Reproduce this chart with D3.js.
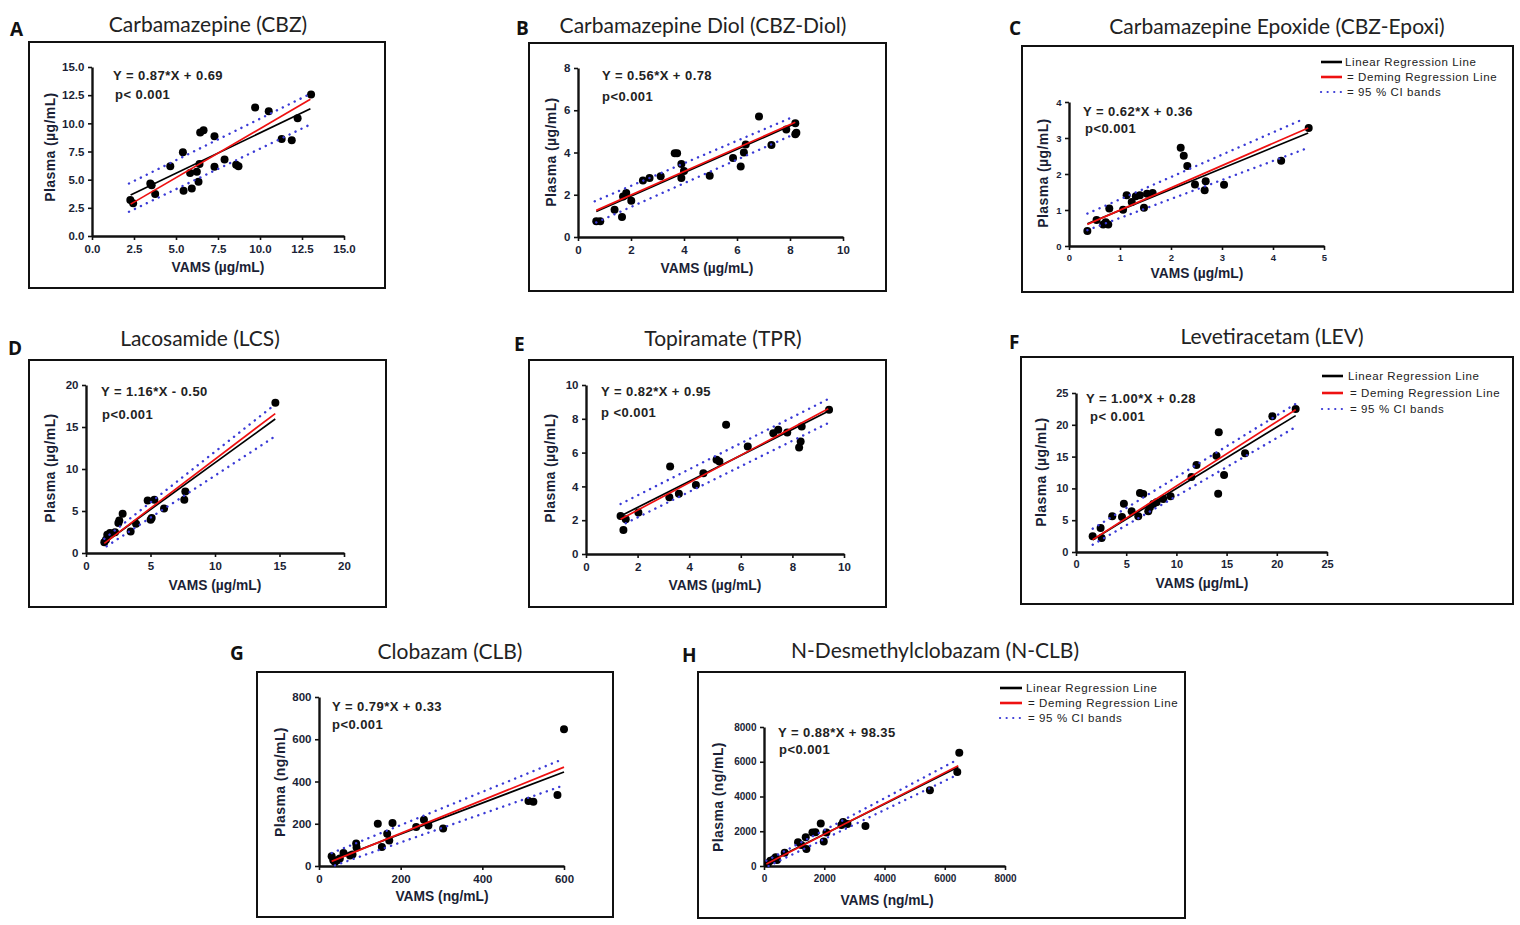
<!DOCTYPE html>
<html>
<head>
<meta charset="utf-8">
<script src="https://d3js.org/d3.v7.min.js"></script>
<style>
body { margin: 0; background: #fff; }
</style>
</head>
<body>
<div class="container"></div>
<script>
// ---- data ----
// A  Carbamazepine
var cbzVams   = [2.28, 2.45, 3.47, 3.55, 3.76, 4.66, 5.41, 5.45, 5.84, 5.94, 6.24, 6.34, 6.40, 6.44, 6.64, 7.29, 7.29, 7.89, 8.58, 8.72, 9.71, 10.52, 11.29, 11.89, 12.24, 13.04];
var cbzPlasma = [3.19, 2.90, 4.66, 4.50, 3.72, 6.20, 7.44, 4.02, 5.60, 4.22, 5.70, 4.81, 6.38, 9.18, 9.39, 8.86, 6.14, 6.79, 6.32, 6.20, 11.40, 11.07, 8.62, 8.50, 10.45, 12.55];
var cbzLinear = [[2.3, 3.63], [13.0, 11.3]];
var cbzDeming = [[2.3, 2.83], [13.0, 12.13]];
var cbzCiUp   = [[2.2, 4.66], [12.9, 12.55]];
var cbzCiLow  = [[2.2, 2.15], [12.9, 9.83]];
var cbzTicks  = [0, 2.5, 5, 7.5, 10, 12.5, 15];

// B  Carbamazepine diol
var diolVams   = [0.69, 0.84, 1.38, 1.66, 1.70, 1.82, 2.01, 2.45, 2.70, 3.12, 3.65, 3.74, 3.90, 3.90, 4.00, 4.97, 5.85, 6.14, 6.26, 6.33, 6.83, 7.30, 7.86, 8.20, 8.20, 8.24];
var diolPlasma = [0.74, 0.74, 1.29, 0.95, 1.92, 2.08, 1.72, 2.68, 2.79, 2.87, 3.97, 3.97, 3.45, 2.79, 3.12, 2.90, 3.74, 3.34, 4.00, 4.38, 5.71, 4.35, 5.09, 5.39, 4.86, 4.94];
var diolLinear = [[0.69, 1.21], [8.18, 5.36]];
var diolDeming = [[0.69, 1.26], [8.20, 5.43]];
var diolCiUp   = [[0.63, 1.69], [8.11, 5.68]];
var diolCiLow  = [[0.69, 0.69], [8.11, 4.84]];
var diolXTicks = [0, 2, 4, 6, 8, 10];
var diolYTicks = [0, 2, 4, 6, 8];

// C  Carbamazepine epoxide
var epoxVams   = [0.36, 0.54, 0.67, 0.72, 0.77, 0.79, 1.06, 1.13, 1.23, 1.31, 1.39, 1.47, 1.53, 1.64, 2.19, 2.25, 2.32, 2.47, 2.66, 2.68, 3.04, 4.16, 4.70];
var epoxPlasma = [0.42, 0.72, 0.60, 0.66, 0.60, 1.04, 1.01, 1.41, 1.22, 1.38, 1.41, 1.06, 1.45, 1.47, 2.73, 2.51, 2.22, 1.71, 1.55, 1.80, 1.70, 2.37, 3.28];
var epoxLinear = [[0.36, 0.62], [4.69, 3.14]];
var epoxDeming = [[0.36, 0.60], [4.69, 3.28]];
var epoxCiUp   = [[0.36, 0.90], [4.62, 3.54]];
var epoxCiLow  = [[0.36, 0.44], [4.62, 2.69]];
var epoxXTicks = [0, 1, 2, 3, 4, 5];
var epoxYTicks = [0, 1, 2, 3, 4];

// D  Lacosamide
var lcsVams   = [1.42, 1.55, 1.65, 1.86, 2.25, 2.51, 2.58, 2.84, 3.46, 3.88, 4.78, 5.01, 5.09, 5.30, 6.05, 7.62, 7.70, 14.68];
var lcsPlasma = [1.27, 1.58, 2.18, 2.38, 2.46, 3.56, 3.88, 4.67, 2.57, 3.49, 6.26, 3.96, 4.16, 6.34, 5.31, 6.34, 7.33, 17.90];
var lcsLinear = [[1.42, 1.19], [14.67, 15.95]];
var lcsDeming = [[1.42, 1.15], [14.67, 16.60]];
var lcsCiUp   = [[1.42, 1.70], [14.67, 17.70]];
var lcsCiLow  = [[1.60, 0.80], [14.67, 13.90]];
var lcsTicks  = [0, 5, 10, 15, 20];

// E  Topiramate
var tprVams   = [1.34, 1.45, 1.54, 2.03, 3.23, 3.26, 3.60, 4.26, 4.55, 5.06, 5.17, 5.43, 6.27, 7.26, 7.45, 7.80, 8.26, 8.32, 8.36, 9.42];
var tprPlasma = [2.25, 1.42, 2.06, 2.45, 3.36, 5.18, 3.56, 4.09, 4.78, 5.57, 5.47, 7.65, 6.36, 7.15, 7.35, 7.19, 6.30, 6.66, 7.55, 8.54];
var tprLinear = [[1.34, 2.25], [9.39, 8.44]];
var tprDeming = [[1.34, 2.06], [9.39, 8.60]];
var tprCiUp   = [[1.34, 2.96], [9.39, 9.17]];
var tprCiLow  = [[1.54, 1.82], [9.39, 7.75]];
var tprTicks  = [0, 2, 4, 6, 8, 10];

// F  Levetiracetam
var levVams   = [1.66, 2.45, 2.55, 3.61, 4.58, 4.77, 5.54, 6.20, 6.37, 6.70, 7.20, 7.36, 7.69, 8.02, 8.69, 9.42, 11.50, 12.00, 13.99, 14.16, 14.22, 14.75, 16.84, 19.56, 21.88];
var levPlasma = [2.46, 3.78, 2.20, 5.61, 5.50, 7.60, 6.39, 5.61, 9.28, 9.12, 6.39, 7.02, 7.55, 7.81, 8.33, 8.75, 11.79, 13.68, 15.15, 9.17, 18.82, 12.11, 15.51, 21.33, 22.48];
var levLinear = [[1.66, 1.94], [21.88, 21.44]];
var levDeming = [[1.66, 1.94], [21.88, 22.38]];
var levCiUp   = [[1.66, 3.67], [21.88, 23.30]];
var levCiLow  = [[1.66, 1.15], [21.88, 19.65]];
var levTicks  = [0, 5, 10, 15, 20, 25];

// G  Clobazam
var clbVams   = [31, 35, 39, 45, 51, 60, 76, 82, 91, 92, 144, 154, 167, 172, 180, 238, 257, 268, 304, 513, 525, 584, 600];
var clbPlasma = [46, 27, 19, 27, 35, 61, 50, 55, 106, 87, 200, 90, 153, 121, 203, 185, 219, 192, 178, 308, 304, 336, 647];
var clbLinear = [[31, 27], [600, 445]];
var clbDeming = [[31, 22], [600, 468]];
var clbCiUp   = [[31, 61], [600, 508]];
var clbCiLow  = [[39, 3], [600, 382]];
var clbXTicks = [0, 200, 400, 600];
var clbYTicks = [0, 200, 400, 600, 800];

// H  N-desmethylclobazam
var nclbVams   = [133, 211, 321, 388, 432, 687, 1130, 1241, 1385, 1407, 1607, 1707, 1884, 1984, 2072, 2571, 2626, 2770, 3368, 5507, 6416, 6482];
var nclbPlasma = [154, 308, 385, 500, 346, 769, 1365, 1212, 1654, 981, 1923, 1942, 2442, 1404, 1923, 2365, 2538, 2423, 2308, 4365, 5404, 6519];
var nclbLinear = [[78, 154], [6449, 5692]];
var nclbDeming = [[78, 120], [6449, 5769]];
var nclbCiUp   = [[78, 300], [6416, 6115]];
var nclbCiLow  = [[150, 0], [6416, 5250]];
var nclbTicks  = [0, 2000, 4000, 6000, 8000];

var legendLabels = ["Linear Regression Line", "= Deming Regression Line", "= 95 % CI bands"];

// ---- layout ----
var panels = [
  { letter: "A", title: "Carbamazepine (CBZ)", box: [29, 42, 385, 288], xr: [92, 344], yr: [236, 67],
    xd: [0, 15], yd: [0, 15], xt: cbzTicks, yt: cbzTicks, fmt: d3.format(".1f"), tf: 11.5,
    x: cbzVams, y: cbzPlasma, lin: cbzLinear, dem: cbzDeming, up: cbzCiUp, lo: cbzCiLow,
    eq: "Y = 0.87*X + 0.69", p: "p< 0.001", eqPos: [113, 75], pPos: [115, 94],
    titlePos: [208, 23], letterPos: [10, 36], unit: "µg/mL", xlPos: [218, 267], ylPos: [50, 147] },
  { letter: "B", title: "Carbamazepine Diol (CBZ-Diol)", box: [529, 43, 886, 291], xr: [578, 843], yr: [237, 68],
    xd: [0, 10], yd: [0, 8], xt: diolXTicks, yt: diolYTicks, fmt: d3.format("d"), tf: 11.5,
    x: diolVams, y: diolPlasma, lin: diolLinear, dem: diolDeming, up: diolCiUp, lo: diolCiLow,
    eq: "Y = 0.56*X + 0.78", p: "p<0.001", eqPos: [602, 75], pPos: [602, 96],
    titlePos: [703, 24], letterPos: [516, 35], unit: "µg/mL", xlPos: [707, 268], ylPos: [551, 152] },
  { letter: "C", title: "Carbamazepine Epoxide (CBZ-Epoxi)", box: [1022, 46, 1513, 292], xr: [1069, 1324], yr: [246, 102],
    xd: [0, 5], yd: [0, 4], xt: epoxXTicks, yt: epoxYTicks, fmt: d3.format("d"), tf: 9.5,
    x: epoxVams, y: epoxPlasma, lin: epoxLinear, dem: epoxDeming, up: epoxCiUp, lo: epoxCiLow,
    eq: "Y = 0.62*X + 0.36", p: "p<0.001", eqPos: [1083, 111], pPos: [1085, 128],
    titlePos: [1277, 25], letterPos: [1009, 35], unit: "µg/mL", xlPos: [1197, 273], ylPos: [1043, 173],
    legend: { x0: 1321, x1: 1342, tx: 1345, ys: [62, 77, 92] } },
  { letter: "D", title: "Lacosamide (LCS)", box: [29, 360, 386, 607], xr: [86, 344], yr: [553, 385],
    xd: [0, 20], yd: [0, 20], xt: lcsTicks, yt: lcsTicks, fmt: d3.format("d"), tf: 11.5,
    x: lcsVams, y: lcsPlasma, lin: lcsLinear, dem: lcsDeming, up: lcsCiUp, lo: lcsCiLow,
    eq: "Y = 1.16*X - 0.50", p: "p<0.001", eqPos: [101, 391], pPos: [102, 414],
    titlePos: [200, 337], letterPos: [8, 355], unit: "µg/mL", xlPos: [215, 585], ylPos: [50, 468] },
  { letter: "E", title: "Topiramate (TPR)", box: [529, 360, 886, 607], xr: [586, 844], yr: [554, 385],
    xd: [0, 10], yd: [0, 10], xt: tprTicks, yt: tprTicks, fmt: d3.format("d"), tf: 11.5,
    x: tprVams, y: tprPlasma, lin: tprLinear, dem: tprDeming, up: tprCiUp, lo: tprCiLow,
    eq: "Y = 0.82*X + 0.95", p: "p <0.001", eqPos: [601, 391], pPos: [601, 412],
    titlePos: [723, 337], letterPos: [514, 351], unit: "µg/mL", xlPos: [715, 585], ylPos: [550, 468] },
  { letter: "F", title: "Levetiracetam (LEV)", box: [1021, 357, 1513, 604], xr: [1076, 1327], yr: [552, 393],
    xd: [0, 25], yd: [0, 25], xt: levTicks, yt: levTicks, fmt: d3.format("d"), tf: 11,
    x: levVams, y: levPlasma, lin: levLinear, dem: levDeming, up: levCiUp, lo: levCiLow,
    eq: "Y = 1.00*X + 0.28", p: "p< 0.001", eqPos: [1086, 398], pPos: [1090, 416],
    titlePos: [1272, 335], letterPos: [1009, 349], unit: "µg/mL", xlPos: [1202, 583], ylPos: [1041, 472],
    legend: { x0: 1322, x1: 1343, tx: 1348, ys: [376, 393, 409] } },
  { letter: "G", title: "Clobazam (CLB)", box: [257, 672, 613, 917], xr: [319, 564], yr: [866, 697],
    xd: [0, 600], yd: [0, 800], xt: clbXTicks, yt: clbYTicks, fmt: d3.format("d"), tf: 11.5,
    x: clbVams, y: clbPlasma, lin: clbLinear, dem: clbDeming, up: clbCiUp, lo: clbCiLow,
    eq: "Y = 0.79*X + 0.33", p: "p<0.001", eqPos: [332, 706], pPos: [332, 724],
    titlePos: [450, 650], letterPos: [230, 660], unit: "ng/mL", xlPos: [442, 896], ylPos: [280, 782] },
  { letter: "H", title: "N-Desmethylclobazam (N-CLB)", box: [698, 672, 1185, 918], xr: [764, 1005], yr: [866, 727],
    xd: [0, 8000], yd: [0, 8000], xt: nclbTicks, yt: nclbTicks, fmt: d3.format("d"), tf: 10,
    x: nclbVams, y: nclbPlasma, lin: nclbLinear, dem: nclbDeming, up: nclbCiUp, lo: nclbCiLow,
    eq: "Y = 0.88*X + 98.35", p: "p<0.001", eqPos: [778, 732], pPos: [779, 749],
    titlePos: [935, 649], letterPos: [682, 662], unit: "ng/mL", xlPos: [887, 900], ylPos: [718, 797],
    legend: { x0: 1000, x1: 1022, tx: 1026, ys: [688, 703, 718] } }
];

var FONT = "'Liberation Sans', Arial, sans-serif";
var INK = "#1b1f36";
var BLUE = "#3a3ad6";
var DOTS = "0.1,6.5";

var stage = d3.select(".container").append("svg")
  .attr("width", 1520).attr("height", 925)
  .style("background-color", "#fff");

function drawPanel(stage, p) {
  var g = stage.append("g");
  var b = p.box;

  // frame
  g.append("rect").attr("x", b[0]).attr("y", b[1])
    .attr("width", b[2] - b[0]).attr("height", b[3] - b[1])
    .attr("fill", "none").attr("stroke", "#111").attr("stroke-width", 2);

  // title + letter
  g.append("text").text(p.title)
    .attr("x", p.titlePos[0]).attr("y", p.titlePos[1])
    .attr("text-anchor", "middle").attr("dominant-baseline", "central")
    .attr("font-family", "Lato, 'Open Sans', sans-serif").attr("font-size", 21)
    .attr("fill", "#222");
  g.append("text").text(p.letter)
    .attr("x", p.letterPos[0]).attr("y", p.letterPos[1])
    .attr("font-family", "'Open Sans', sans-serif").attr("font-weight", "bold")
    .attr("font-size", 19).attr("fill", "#111");

  var x = d3.scaleLinear().domain(p.xd).range(p.xr);
  var y = d3.scaleLinear().domain(p.yd).range(p.yr);

  var xAxis = g.append("g").attr("transform", "translate(0," + p.yr[0] + ")")
    .call(d3.axisBottom(x).tickValues(p.xt).tickFormat(p.fmt).tickSize(4).tickSizeOuter(0));
  var yAxis = g.append("g").attr("transform", "translate(" + p.xr[0] + ",0)")
    .call(d3.axisLeft(y).tickValues(p.yt).tickFormat(p.fmt).tickSize(4).tickSizeOuter(0));
  [xAxis, yAxis].forEach(function (ax) {
    ax.select(".domain").attr("stroke", "#111").attr("stroke-width", 2.4);
    ax.selectAll(".tick line").attr("stroke", "#111").attr("stroke-width", 1.6);
    ax.selectAll(".tick text").attr("font-family", FONT).attr("font-weight", "bold")
      .attr("font-size", p.tf).attr("fill", INK);
  });
  xAxis.selectAll(".tick text").attr("dy", "0.85em");
  yAxis.selectAll(".tick text").attr("dx", "-0.05em");

  // axis titles
  g.append("text").text("VAMS (" + p.unit + ")")
    .attr("x", p.xlPos[0]).attr("y", p.xlPos[1])
    .attr("text-anchor", "middle").attr("dominant-baseline", "central")
    .attr("font-family", FONT).attr("font-weight", "bold").attr("font-size", 13.8)
    .attr("fill", INK);
  g.append("text").text("Plasma (" + p.unit + ")")
    .attr("transform", "translate(" + p.ylPos[0] + "," + p.ylPos[1] + ") rotate(-90)")
    .attr("text-anchor", "middle").attr("dominant-baseline", "central")
    .attr("font-family", FONT).attr("font-weight", "bold").attr("font-size", 14)
    .attr("letter-spacing", 0.4).attr("fill", INK);

  // points
  var pts = p.x.map(function (v, i) { return [v, p.y[i]]; });
  g.selectAll("circle").data(pts).enter().append("circle")
    .attr("cx", function (d) { return x(d[0]); })
    .attr("cy", function (d) { return y(d[1]); })
    .attr("r", 4).attr("fill", "#000");

  var line = d3.line().x(function (d) { return x(d[0]); }).y(function (d) { return y(d[1]); });
  [p.up, p.lo].forEach(function (band) {
    g.append("path").attr("d", line(band)).attr("fill", "none")
      .attr("stroke", BLUE).attr("stroke-width", 2.4)
      .attr("stroke-dasharray", DOTS).attr("stroke-linecap", "round");
  });
  g.append("path").attr("d", line(p.lin)).attr("fill", "none")
    .attr("stroke", "#000").attr("stroke-width", 1.7);
  g.append("path").attr("d", line(p.dem)).attr("fill", "none")
    .attr("stroke", "#ee1111").attr("stroke-width", 1.7);

  // equation
  [[p.eq, p.eqPos], [p.p, p.pPos]].forEach(function (t) {
    g.append("text").text(t[0]).attr("x", t[1][0]).attr("y", t[1][1])
      .attr("dominant-baseline", "central")
      .attr("font-family", FONT).attr("font-weight", "bold").attr("font-size", 13)
      .attr("letter-spacing", 0.45).attr("fill", "#222");
  });

  if (p.legend) {
    var L = p.legend;
    var styles = [
      { c: "#000", w: 2.6, dash: null },
      { c: "#ee1111", w: 2.6, dash: null },
      { c: BLUE, w: 2.2, dash: DOTS }
    ];
    legendLabels.forEach(function (lab, i) {
      var s = styles[i];
      var ln = g.append("line").attr("x1", L.x0).attr("x2", L.x1)
        .attr("y1", L.ys[i]).attr("y2", L.ys[i])
        .attr("stroke", s.c).attr("stroke-width", s.w);
      if (s.dash) ln.attr("stroke-dasharray", s.dash).attr("stroke-linecap", "round");
      g.append("text").text(lab)
        .attr("x", L.tx + (i === 0 ? 0 : 2)).attr("y", L.ys[i])
        .attr("dominant-baseline", "central")
        .attr("font-family", FONT).attr("font-size", 11.5)
        .attr("letter-spacing", 0.6).attr("fill", "#222");
    });
  }
}

panels.forEach(function (p) { drawPanel(stage, p); });
</script>
</body>
</html>
